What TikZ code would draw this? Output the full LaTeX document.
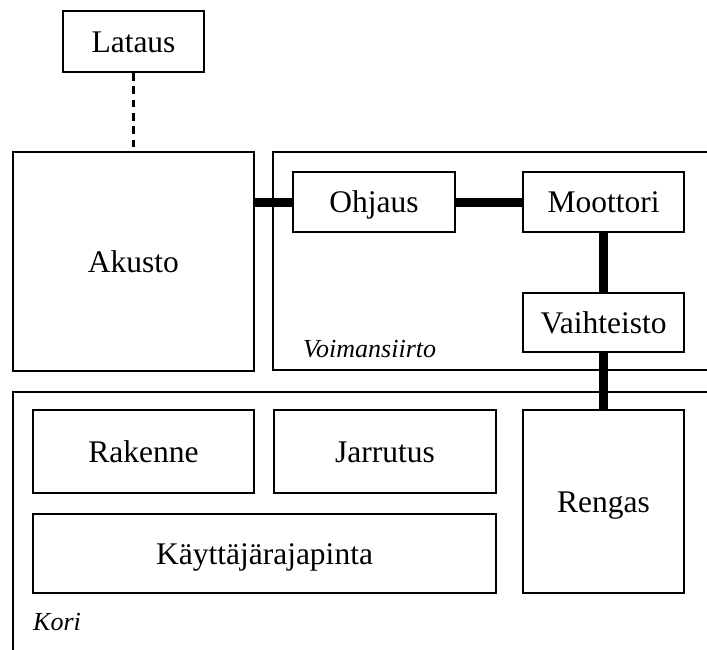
\documentclass[tikz,border=0pt]{standalone}
\usepackage{fontspec}
\setmainfont{Liberation Serif}
\begin{document}
\begin{tikzpicture}[x=1pt,y=-1pt,
  blk/.style={draw, line width=2pt, rectangle, inner sep=0pt,
              text height=21pt, text depth=0pt,
              font=\fontsize{31.5}{36}\selectfont},
  grp/.style={draw, line width=2pt},
  grplabel/.style={anchor=west, inner sep=0pt, font=\fontsize{26}{30}\selectfont\itshape},
  bus/.style={line width=9pt},
  link/.style={line width=2.8pt, dash pattern=on 7.7pt off 5.6pt}]
\useasboundingbox (0,0) rectangle (707,649);
\clip (0,0) rectangle (707,649);

% group frames
\draw[grp] (273,152) rectangle (730,370);
\draw[grp] (13,392) rectangle (730,680);
\node[grplabel] (voimlbl) at (303,349) {Voimansiirto};
\node[grplabel] (korilbl) at (33,622) {Kori};

% blocks
\node[blk, minimum width=141pt, minimum height=61pt] (lataus) at (133.5,41.5) {Lataus};
\node[blk, minimum width=241pt, minimum height=219pt] (akusto) at (133.5,261.5) {Akusto};
\node[blk, minimum width=162pt, minimum height=60pt] (ohjaus) at (374,202) {Ohjaus};
\node[blk, minimum width=161pt, minimum height=60pt] (moottori) at (603.5,202) {Moottori};
\node[blk, minimum width=161pt, minimum height=59pt] (vaihteisto) at (603.5,322.5) {Vaihteisto};
\node[blk, minimum width=221pt, minimum height=83pt] (rakenne) at (143.5,451.5) {Rakenne};
\node[blk, minimum width=222pt, minimum height=83pt] (jarrutus) at (385,451.5) {Jarrutus};
\node[blk, minimum width=463pt, minimum height=79pt] (kayttis) at (264.5,553.5) {Käyttäjärajapinta};
\node[blk, minimum width=161pt, minimum height=183pt] (rengas) at (603.5,501.5) {Rengas};

% connections
\draw[link] (lataus.south) -- (akusto.north);
\draw[bus] (akusto.east |- ohjaus.west) -- (ohjaus.west);
\draw[bus] (ohjaus.east) -- (moottori.west);
\draw[bus] (moottori.south) -- (vaihteisto.north);
\draw[bus] (vaihteisto.south) -- (rengas.north);
\end{tikzpicture}
\end{document}
